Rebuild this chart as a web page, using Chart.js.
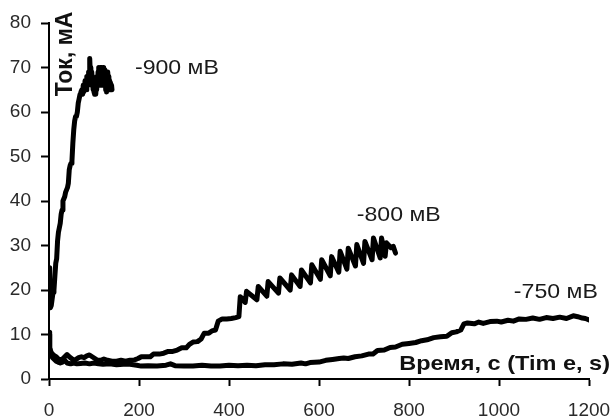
<!DOCTYPE html>
<html>
<head>
<meta charset="utf-8">
<script src="https://cdn.jsdelivr.net/npm/chart.js@4/dist/chart.umd.min.js"></script>
<style>
  html, body { margin: 0; padding: 0; background: #fff; }
  #wrap { width: 611px; height: 419px; }
</style>
</head>
<body>
<div id="wrap"><canvas id="c" width="611" height="419"></canvas></div>
<script>
// Current vs. time at three electrode potentials (time in s, current in mA)
const time900 = [0, 1, 2, 3, 5, 7, 9, 11, 13, 15, 17, 19, 21, 23, 25, 27, 29, 31, 33, 35, 37, 39, 41, 43, 45, 47, 49, 51, 53, 55, 57, 59, 61, 63, 65, 67, 69, 71, 73, 75, 76, 77, 78, 79, 80, 81, 82, 83, 84, 85, 86, 87, 88, 89, 90, 91, 92, 93, 94, 95, 96, 97, 98, 99, 100, 101, 102, 103, 104, 105, 106, 107, 108, 109, 110, 111, 112, 113, 114, 115, 116, 117, 118, 119, 120, 121, 122, 123, 124, 125, 126, 127, 128, 129, 130, 131, 132, 133, 134, 135, 136, 137, 138, 139, 140, 141];
const current900 = [25, 21, 17, 16, 16.5, 18, 19.5, 20, 23, 26, 27, 31, 33, 34, 35, 37, 38, 40, 40.5, 41, 42, 42.5, 43, 44, 47, 48, 48.5, 49, 53, 56, 58, 59, 59, 60, 62, 63, 64, 64.5, 65, 64, 66, 64.5, 66, 65, 67, 65.5, 67, 65, 68, 66, 68, 66.5, 69, 67, 71, 72, 68, 70, 66, 69, 67, 68, 65, 67, 64.5, 67, 64, 66, 64, 67, 65, 68, 66, 69, 66, 70, 66, 69.5, 66, 70, 67, 70, 66, 69, 66, 70, 67, 69.5, 66, 69, 65, 68, 64.5, 67, 65, 69, 66, 68, 65, 67, 65, 66.5, 65, 66, 65, 65];

const time800 = [0, 1, 2, 4, 6, 9, 12, 16, 20, 25, 30, 35, 40, 45, 50, 55, 60, 66, 72, 78, 84, 90, 96, 102, 108, 115, 122, 130, 140, 150, 160, 170, 180, 190, 198, 205, 215, 225, 232, 245, 255, 265, 275, 285, 295, 305, 312, 320, 330, 338, 345, 355, 362, 370, 376, 385, 395, 405, 415, 422, 425, 430, 436,
  439, 462, 465, 484, 487, 510, 513, 536, 539, 558, 561, 581, 584, 603, 606, 625, 628, 644, 647, 662, 665, 681, 684, 699, 702, 718, 721, 736, 739, 747, 750, 760, 765, 770];
const current800 = [10.5, 8, 7, 6.2, 5.8, 5.5, 5.2, 5, 4.6, 4.3, 4.5, 5, 5.5, 5, 4.6, 4.2, 4.4, 4.8, 5, 4.8, 5.2, 5.4, 5, 4.6, 4.2, 4.2, 4.5, 4.2, 4, 4, 4.2, 4, 4.2, 4.3, 4.6, 5, 5, 5, 5.6, 5.6, 5.8, 6.2, 6.2, 6.5, 7, 7, 7.8, 8.3, 8.4, 9, 10.3, 10.3, 10.8, 11, 13, 13.5, 13.5, 13.6, 13.8, 14, 18.5, 18, 17.2,
  19.7, 17.8, 20.8, 18.6, 21.9, 19.3, 22.7, 20, 23.4, 20.8, 24.5, 21.6, 25.7, 22.4, 26.8, 23.2, 27.5, 24, 28.7, 24.7, 29.4, 25.4, 30.2, 26, 30.9, 26.8, 31.7, 27.2, 31.7, 27.6, 30.6, 29.5, 29.8, 28.3];

const time750 = [0, 1, 2, 3, 5, 8, 12, 16, 20, 25, 30, 35, 40, 48, 55, 62, 70, 80, 90, 100, 110, 120, 135, 150, 165, 180, 195, 205, 220, 240, 260, 270, 280, 300, 320, 340, 360, 380, 400, 420, 440, 460, 480, 500, 520, 540, 560, 570, 580, 600, 615, 630, 645, 655, 665, 680, 695, 710, 720, 730, 745, 758, 770, 785, 800, 815, 828, 840, 855, 870, 884, 895, 905, 915, 922, 930, 945, 955, 965, 980, 995, 1005, 1020, 1032, 1045, 1060, 1075, 1090, 1105, 1120, 1135, 1150, 1165, 1175, 1185, 1192, 1200];
const current750 = [10, 8.5, 7, 6, 5.2, 4.8, 4.4, 4, 3.8, 3.6, 3.8, 4.2, 3.6, 3.4, 3.6, 3.4, 3.5, 3.6, 3.4, 3.6, 3.4, 3.3, 3.4, 3.2, 3.3, 3.3, 3.1, 2.9, 3, 2.9, 3.1, 3.4, 3, 2.9, 2.9, 3.1, 2.9, 2.9, 3.1, 3, 3.1, 3, 3.2, 3.2, 3.4, 3.3, 3.6, 3.4, 3.7, 3.8, 4.2, 4.4, 4.6, 4.7, 4.6, 5, 5.2, 5.6, 5.6, 6.4, 6.5, 7.1, 7.2, 7.8, 8, 8.2, 8.6, 8.8, 9.3, 9.5, 9.6, 10.4, 10.6, 11, 12.4, 12.6, 12.4, 12.8, 12.5, 12.9, 13, 12.8, 13.2, 13, 13.5, 13.4, 13.7, 13.4, 13.8, 13.6, 13.9, 13.6, 14.2, 14, 13.7, 13.6, 13.3];

const seriesNames = ['-900 мВ', '-800 мВ', '-750 мВ'];
const xTickValues = [0, 200, 400, 600, 800, 1000, 1200];
const yTickValues = [0, 10, 20, 30, 40, 50, 60, 70, 80];
const xTitle = 'Время, с (Tim e, s)';
const yTitle = 'Ток, мА';

// where each potential label sits, in axis units (left edge, vertical centre)
const labelAnchors = [
  { t: 191, i: 69.9 },
  { t: 684, i: 36.8 },
  { t: 1033, i: 19.4 }
];

const FONT = '"Liberation Sans", Arial, Helvetica, sans-serif';
const pts = (ts, vs) => ts.map((t, k) => ({ x: t, y: vs[k] }));

const lineStyle = {
  showLine: true, borderColor: '#000', backgroundColor: '#000', borderWidth: 5,
  pointRadius: 0, tension: 0, borderJoinStyle: 'round', borderCapStyle: 'round', fill: false
};

// text drawn slightly widened horizontally
function wideText(ctx, text, x, y, sx) {
  ctx.save();
  ctx.translate(x, y);
  ctx.scale(sx, 1);
  ctx.fillText(text, 0, 0);
  ctx.restore();
}

const inlineText = {
  id: 'inlineText',
  afterDatasetsDraw(chart) {
    const { ctx, chartArea: a, scales: { x, y } } = chart;
    ctx.save();
    ctx.fillStyle = '#111';
    // x axis title, inside the plot at the lower right
    ctx.font = 'bold 21px ' + FONT;
    ctx.textAlign = 'right';
    ctx.textBaseline = 'alphabetic';
    wideText(ctx, xTitle, a.right + 21, a.bottom - 9, 1.12);
    // y axis title, rotated, beside the top of the axis
    ctx.save();
    ctx.translate(a.left + 23, a.top + 31);
    ctx.rotate(-Math.PI / 2);
    ctx.textAlign = 'center';
    ctx.font = 'bold 23px ' + FONT;
    ctx.fillText(yTitle, 0, 0);
    ctx.restore();
    // potential labels next to each curve
    ctx.font = '21px ' + FONT;
    ctx.textAlign = 'left';
    ctx.textBaseline = 'middle';
    ctx.fillStyle = '#1a1a1a';
    seriesNames.forEach((name, k) => {
      wideText(ctx, name, x.getPixelForValue(labelAnchors[k].t), y.getPixelForValue(labelAnchors[k].i), 1.1);
    });
    ctx.restore();
  }
};

new Chart(document.getElementById('c'), {
  type: 'scatter',
  data: {
    datasets: [
      { label: seriesNames[0], data: pts(time900, current900), ...lineStyle },
      { label: seriesNames[1], data: pts(time800, current800), ...lineStyle },
      { label: seriesNames[2], data: pts(time750, current750), ...lineStyle }
    ]
  },
  options: {
    responsive: false,
    animation: false,
    devicePixelRatio: 1,
    layout: { padding: { top: 23, right: 22, left: 0, bottom: 0 } },
    plugins: { legend: { display: false }, tooltip: { enabled: false } },
    scales: {
      x: {
        type: 'linear', min: 0, max: 1200,
        afterBuildTicks(s) { s.ticks = xTickValues.map(v => ({ value: v })); },
        ticks: { color: '#2a2a2a', font: { size: 19, family: FONT }, padding: 13, maxRotation: 0, autoSkip: false,
                 callback: v => String(v) },
        grid: { drawOnChartArea: false, drawTicks: true, tickLength: 7, tickWidth: 2, tickColor: '#000' },
        border: { color: '#000', width: 2 },
        afterFit(s) { s.height = 40; s.paddingLeft = 0; s.paddingRight = 0; s.paddingTop = 0; s.paddingBottom = 0; }
      },
      y: {
        type: 'linear', min: 0, max: 80,
        afterBuildTicks(s) { s.ticks = yTickValues.map(v => ({ value: v })); },
        ticks: { color: '#2a2a2a', font: { size: 19, family: FONT }, padding: 10, autoSkip: false,
                 callback: v => String(v) },
        grid: { drawOnChartArea: false, drawTicks: true, tickLength: 8, tickWidth: 2, tickColor: '#000' },
        border: { color: '#000', width: 2 },
        afterFit(s) { s.width = 49; s.paddingLeft = 0; s.paddingRight = 0; s.paddingTop = 0; s.paddingBottom = 0; }
      }
    }
  },
  plugins: [inlineText]
});
</script>
</body>
</html>
